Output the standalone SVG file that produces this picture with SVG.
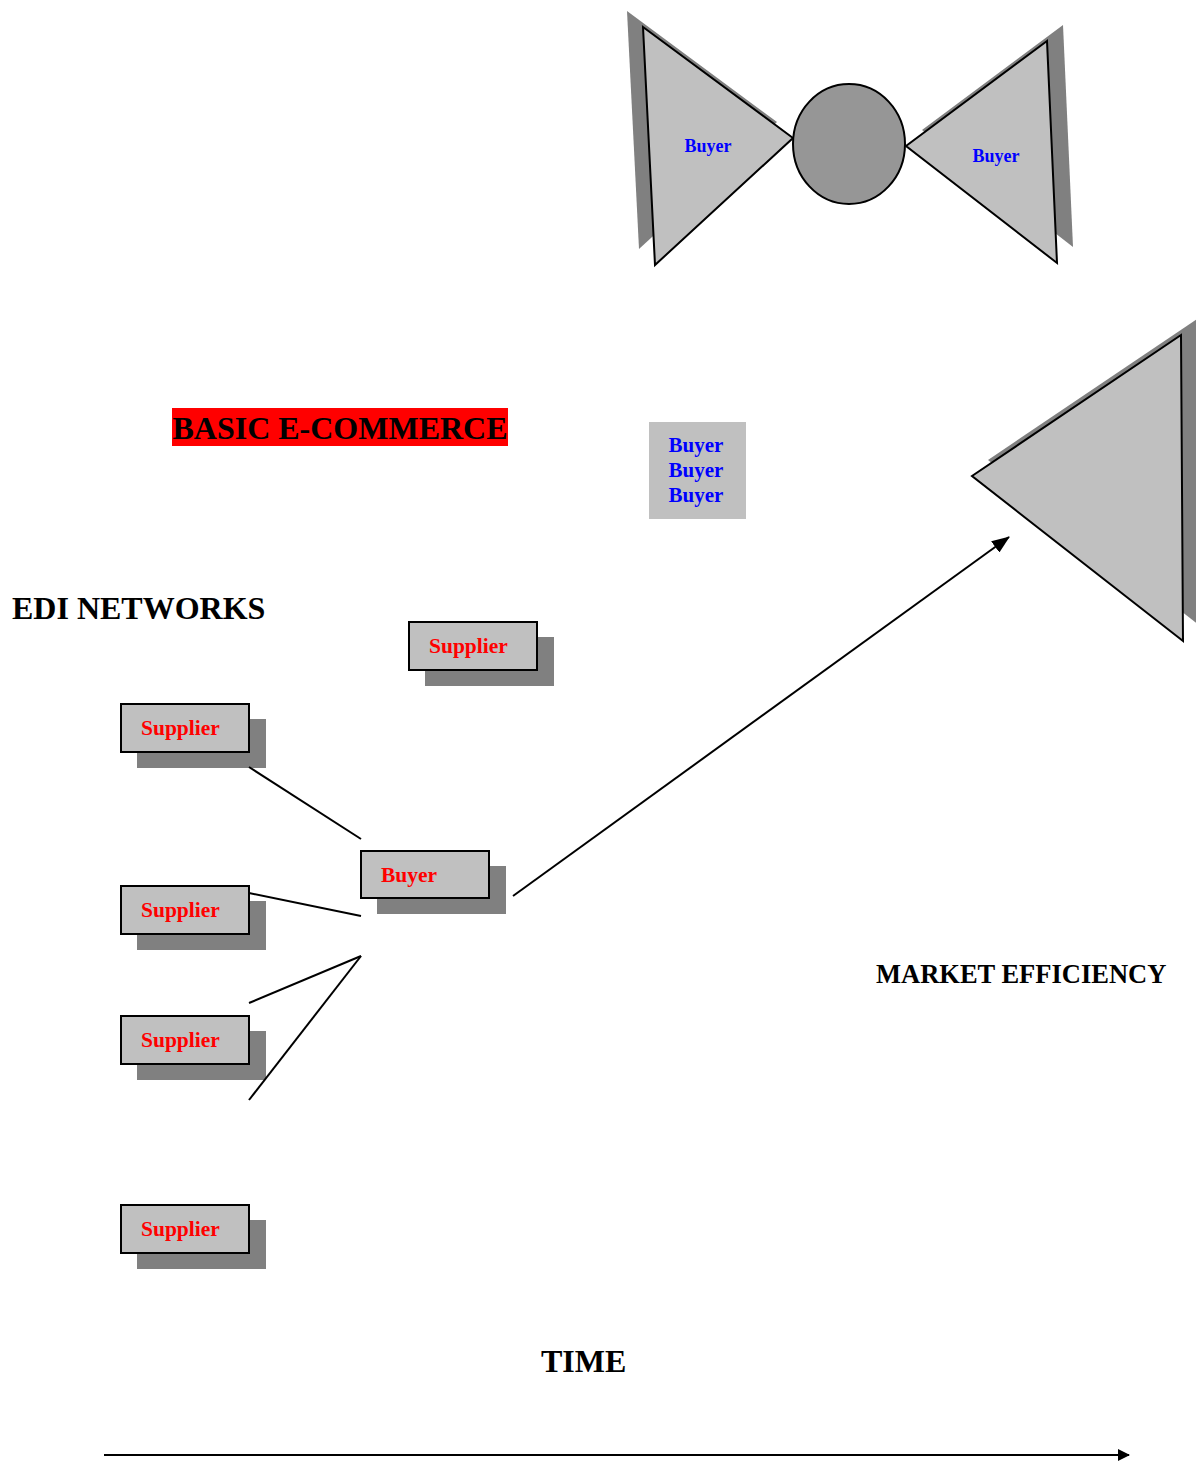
<svg xmlns="http://www.w3.org/2000/svg" width="1196" height="1461" viewBox="0 0 1196 1461">
<defs>
<style>
text{font-family:"Liberation Serif","Times New Roman",serif;font-weight:bold}
.box{fill:#c0c0c0;stroke:#000;stroke-width:2}
.shadow{fill:#808080}
.tri{fill:#c0c0c0;stroke:#000;stroke-width:2}
.sup{fill:#ff0000;font-size:21.5px}
.blue{fill:#0000ff}
.conn{stroke:#000;stroke-width:2;fill:none}
</style>
<marker id="arr" viewBox="0 0 18 14" refX="17" refY="7" markerWidth="18" markerHeight="14" markerUnits="userSpaceOnUse" orient="auto">
<path d="M0,0 L18,7 L0,14 z" fill="#000"/>
</marker>
<marker id="arr2" viewBox="0 0 12 12" refX="11" refY="6" markerWidth="12" markerHeight="12" orient="auto" markerUnits="userSpaceOnUse">
<path d="M0,0 L12,6 L0,12 z" fill="#000"/>
</marker>
</defs>
<rect width="1196" height="1461" fill="#fff"/>

<g id="bowtie-left">
<polygon class="shadow" points="627,11 777,122 639,249"/>
<polygon class="tri" points="643,27 793,138 655,265"/>
<text class="blue" x="708" y="152" font-size="18" text-anchor="middle">Buyer</text>
</g>
<g id="bowtie-hub">
<ellipse cx="849" cy="144" rx="56" ry="60" fill="#969696" stroke="#000" stroke-width="2"/>
</g>
<g id="bowtie-right">
<polygon class="shadow" points="1063,25 922,130 1073,247"/>
<polygon class="tri" points="1047,41 906,146 1057,263"/>
<text class="blue" x="996" y="162" font-size="18" text-anchor="middle">Buyer</text>
</g>

<g id="big-triangle">
<polygon class="shadow" points="1197,319 988,460 1199,625"/>
<polygon class="tri" points="1181,335 972,476 1183,641"/>
</g>

<g id="basic-ecommerce">
<rect x="172" y="408" width="336" height="38" fill="#ff0000"/>
<text x="340" y="439" font-size="32" text-anchor="middle" fill="#000">BASIC E-COMMERCE</text>
</g>

<g id="buyers-box">
<rect x="649" y="422" width="97" height="97" fill="#c0c0c0"/>
<text class="blue" x="696" y="452" font-size="21" text-anchor="middle">Buyer</text>
<text class="blue" x="696" y="477" font-size="21" text-anchor="middle">Buyer</text>
<text class="blue" x="696" y="502" font-size="21" text-anchor="middle">Buyer</text>
</g>

<g id="edi-networks">
<text x="12" y="619" font-size="32" fill="#000">EDI NETWORKS</text>
</g>

<g id="supplier-top">
<rect class="shadow" x="425" y="637" width="129" height="49"/>
<rect class="box" x="409" y="622" width="128" height="48"/>
<text class="sup" x="429" y="653">Supplier</text>
</g>
<g id="supplier-1">
<rect class="shadow" x="137" y="719" width="129" height="49"/>
<rect class="box" x="121" y="704" width="128" height="48"/>
<text class="sup" x="141" y="735">Supplier</text>
</g>
<g id="buyer-edi">
<rect class="shadow" x="377" y="866" width="129" height="48"/>
<rect class="box" x="361" y="851" width="128" height="47"/>
<text class="sup" x="381" y="882">Buyer</text>
</g>
<g id="supplier-2">
<rect class="shadow" x="137" y="901" width="129" height="49"/>
<rect class="box" x="121" y="886" width="128" height="48"/>
<text class="sup" x="141" y="917">Supplier</text>
</g>
<g id="supplier-3">
<rect class="shadow" x="137" y="1031" width="129" height="49"/>
<rect class="box" x="121" y="1016" width="128" height="48"/>
<text class="sup" x="141" y="1047">Supplier</text>
</g>
<g id="supplier-4">
<rect class="shadow" x="137" y="1220" width="129" height="49"/>
<rect class="box" x="121" y="1205" width="128" height="48"/>
<text class="sup" x="141" y="1236">Supplier</text>
</g>

<g id="market-efficiency">
<text x="876" y="983" font-size="26.5" fill="#000">MARKET EFFICIENCY</text>
</g>
<g id="time">
<text x="541" y="1372" font-size="32" fill="#000">TIME</text>
</g>

<g id="connectors">
<line class="conn" x1="249" y1="767" x2="361" y2="839"/>
<line class="conn" x1="249" y1="893" x2="361" y2="916"/>
<line class="conn" x1="249" y1="1003" x2="361" y2="956"/>
<line class="conn" x1="361" y1="956" x2="249" y2="1100"/>
<line class="conn" x1="513" y1="896" x2="1009" y2="537" marker-end="url(#arr)"/>
<line class="conn" x1="104" y1="1455" x2="1129" y2="1455" marker-end="url(#arr2)"/>
</g>
</svg>
